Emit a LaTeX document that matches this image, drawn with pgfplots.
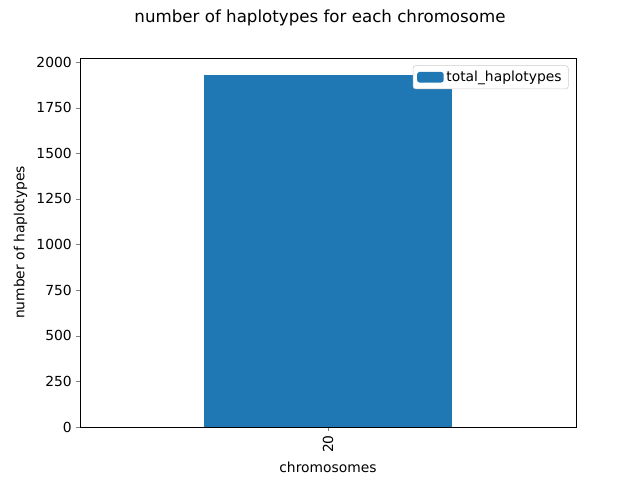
\documentclass[border=0pt]{standalone}
\usepackage{pgfplots}
\pgfplotsset{compat=1.18}
\usepackage{fontspec}
\setmainfont{DejaVu Sans}
\begin{document}
\begin{tikzpicture}[x=0.75pt,y=0.75pt]
\path[use as bounding box] (0,0) rectangle (640,480);
\node[font=\fontsize{12.5}{14}\selectfont] at (320,462) {number of haplotypes for each chromosome};
\begin{axis}[
  at={(80pt*0.75,53pt*0.75)}, anchor=south west,
  scale only axis, width=372pt, height=276.75pt,
  xmin=-0.5, xmax=0.5, ymin=0, ymax=2022,
  xtick={0}, xticklabels={20},
  xticklabel style={rotate=90, anchor=east},
  ytick={0,250,500,750,1000,1250,1500,1750,2000},
  tick label style={font=\fontsize{10.4}{12}\selectfont},
  /pgf/number format/assume math mode=true,
  /pgf/number format/1000 sep={},
  label style={font=\fontsize{10.4}{12}\selectfont},
  xlabel={chromosomes}, ylabel={number of haplotypes},
  tick align=outside, tick pos=left,
  major tick length=3.5pt*0.75,
  legend style={at={(0.985,0.98)}, anchor=north east, font=\fontsize{10.4}{12}\selectfont, draw=black!20, rounded corners=2pt},
  legend image code/.code={\fill[#1] (0pt,-4pt) rectangle (20pt,4pt);},
]
\addplot[ybar, bar width=186pt, fill={rgb,255:red,31;green,119;blue,180}, draw=none] coordinates {(0,1929)};
\addlegendentry{total\_haplotypes}
\end{axis}
\end{tikzpicture}
\end{document}
